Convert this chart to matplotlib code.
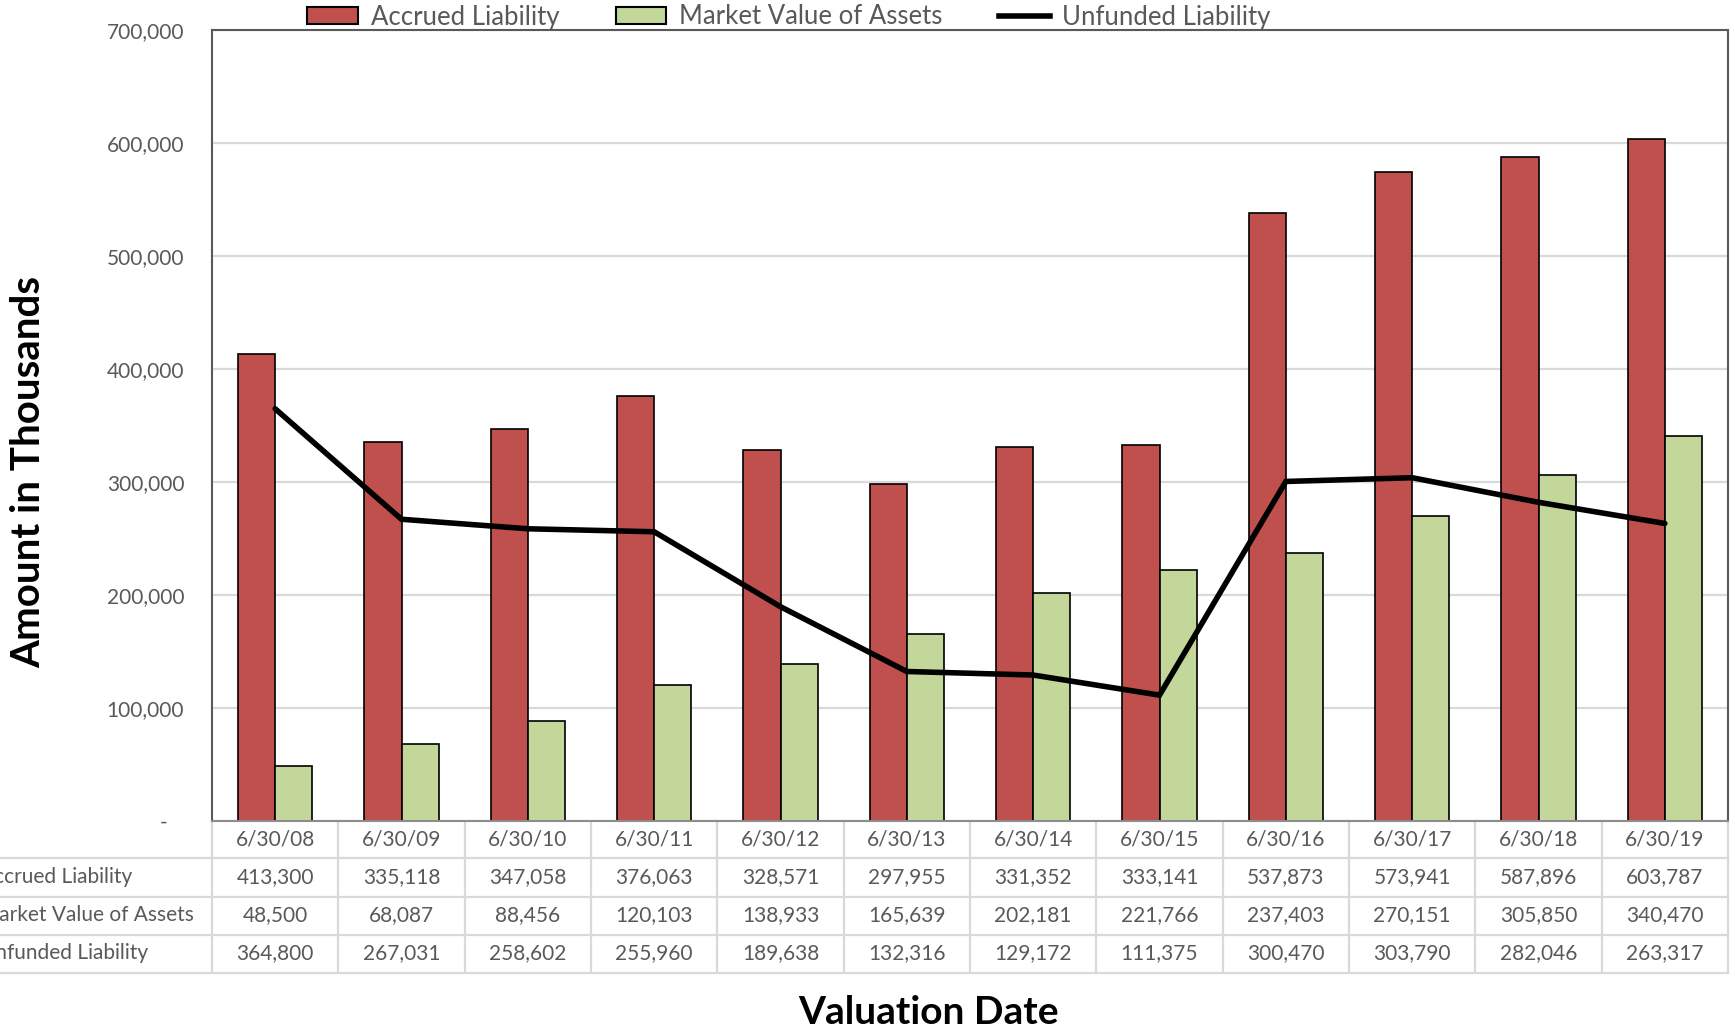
#!/usr/bin/env python3
# plot.py - accrued liability vs. assets, with the data table under the chart

import matplotlib
matplotlib.use("Agg")
import matplotlib.pyplot as plt
import numpy as np
from matplotlib.lines import Line2D
from matplotlib.patches import Patch
from matplotlib.transforms import blended_transform_factory

# Data (in thousands)
dates = ["6/30/08", "6/30/09", "6/30/10", "6/30/11", "6/30/12", "6/30/13",
         "6/30/14", "6/30/15", "6/30/16", "6/30/17", "6/30/18", "6/30/19"]
accrued = [413300, 335118, 347058, 376063, 328571, 297955,
           331352, 333141, 537873, 573941, 587896, 603787]
assets = [48500, 68087, 88456, 120103, 138933, 165639,
          202181, 221766, 237403, 270151, 305850, 340470]
unfunded = [364800, 267031, 258602, 255960, 189638, 132316,
            129172, 111375, 300470, 303790, 282046, 263317]
row_names = ["Accrued Liability", "Market Value of Assets", "Unfunded Liability"]
y_ticks = [0, 100000, 200000, 300000, 400000, 500000, 600000, 700000]

RED = "#c0504d"
GREEN = "#c4d79b"
GREY_TXT = "#595959"
GRID = "#d9d9d9"

plt.rcParams["font.family"] = ["Lato", "DejaVu Sans"]

W, H = 1735, 1033
fig = plt.figure(figsize=(W / 100, H / 100), dpi=100)
ax = fig.add_axes([212 / W, 1 - 821 / H, (1728 - 212) / W, (821 - 30) / H])

x = np.arange(len(dates))
w = 0.293
ax.bar(x - w / 2, accrued, w, color=RED, edgecolor="black", linewidth=1.2, zorder=2)
ax.bar(x + w / 2, assets, w, color=GREEN, edgecolor="black", linewidth=1.2, zorder=2)
ax.plot(x, unfunded, color="black", linewidth=4, solid_joinstyle="miter",
        solid_capstyle="round", zorder=3)

ax.set_xlim(-0.5, len(dates) - 0.5)
ax.set_ylim(0, 700000)
ax.set_xticks([])
ax.set_yticks(y_ticks)
ax.set_yticklabels([f"{v:,}" if v else "-   " for v in y_ticks])
ax.tick_params(axis="y", length=0, pad=20, labelsize=15, labelcolor=GREY_TXT)
ax.set_axisbelow(True)
ax.yaxis.grid(True, color=GRID, linewidth=1.6)
for side in ["left", "top", "right"]:
    ax.spines[side].set_color(GREY_TXT)
    ax.spines[side].set_linewidth(1.5)
ax.spines["bottom"].set_color("#8c8c8c")
ax.spines["bottom"].set_linewidth(1.5)

# data table under the plot
trans = blended_transform_factory(ax.transData, fig.transFigure)
header_y = 840
row_ys = [877, 915, 953]
row_lines = [858, 897, 935, 973]

for i, d in enumerate(dates):
    ax.text(x[i], 1 - header_y / H, d, transform=trans, ha="center", va="center",
            fontsize=15, color=GREY_TXT, clip_on=False)
    for vals, ry in zip([accrued, assets, unfunded], row_ys):
        ax.text(x[i], 1 - ry / H, f"{vals[i]:,}", transform=trans, ha="center",
                va="center", fontsize=15, color=GREY_TXT, clip_on=False)

ax.vlines(np.arange(len(dates) + 1) - 0.5, 1 - 973 / H, 1 - 821 / H, transform=trans,
          color=GRID, linewidth=1.6, clip_on=False, zorder=1)
for ly in row_lines:
    fig.add_artist(Line2D([0, 1728 / W], [1 - ly / H, 1 - ly / H], color=GRID, linewidth=1.6))

# row labels run off the left edge, as in the original
for name, ry in zip(row_names, row_ys):
    fig.text(-20 / W, 1 - ry / H, name, ha="left", va="center", fontsize=15, color=GREY_TXT)

# axis titles
fig.text(29 / W, 1 - 472 / H, "Amount in Thousands", rotation=90, ha="center", va="center",
         fontsize=29, fontweight="bold", color="black")
fig.text(929 / W, 1 - 1013 / H, "Valuation Date", ha="center", va="center",
         fontsize=28, fontweight="bold", color="black")

# legend on top
handles = [Patch(facecolor=RED, edgecolor="black", linewidth=1.5),
           Patch(facecolor=GREEN, edgecolor="black", linewidth=1.5),
           Line2D([], [], color="black", linewidth=4)]
leg = fig.legend(handles, row_names, loc="center", ncol=3, frameon=False,
                 bbox_to_anchor=((311 + 1267) / 2 / W, 1 - 17 / H),
                 fontsize=18.5, handlelength=1.98, handleheight=0.62,
                 handletextpad=0.5, columnspacing=2.18, borderpad=0, borderaxespad=0)
for t in leg.get_texts():
    t.set_color(GREY_TXT)

fig.savefig("out.png", dpi=100)
